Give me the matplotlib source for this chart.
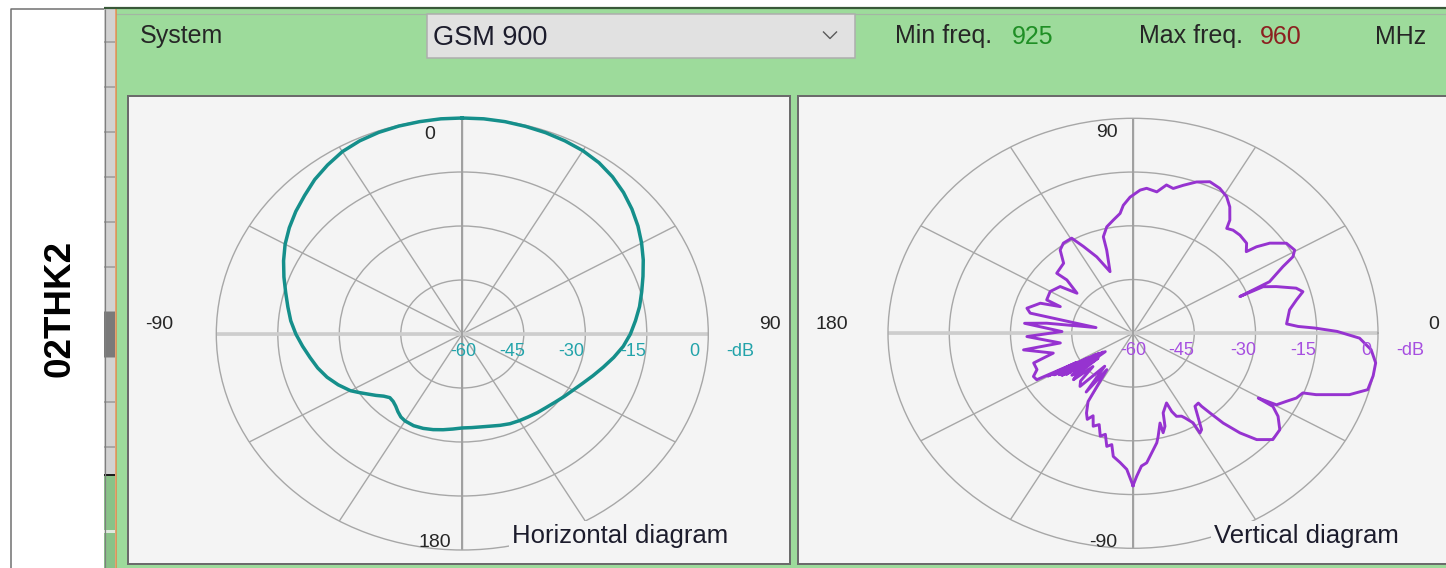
import numpy as np
import matplotlib
matplotlib.use("Agg")
import matplotlib.pyplot as plt
from matplotlib.patches import Rectangle

plt.rcParams['font.family'] = ['Liberation Sans', 'DejaVu Sans']

W, H = 1446, 568

# ---------------- data ----------------
system_label = "System"
system_name = "GSM 900"
min_freq = 925
max_freq = 960
freq_unit = "MHz"
antenna_name = "02THK2"

ring_db = [-45, -30, -15]
ring_label_db = [-60, -45, -30, -15, 0]
spoke_deg = list(range(0, 360, 30))

# Horizontal diagram: azimuth (deg, clockwise from top), gain (dB)
h_angle_deg = [0, 5, 10, 15, 20, 25, 30, 35, 40, 45, 50, 55, 60, 65, 70, 75, 80, 85,
               90, 95, 100, 105, 110, 115, 120, 125, 130, 135, 140, 145, 150, 155,
               160, 165, 170, 175, 180, 185, 190, 195, 200, 205, 210, 213, 216, 219,
               222, 225, 228, 231, 234, 237, 240, 245, 250, 255, 260, 265, 270, 275,
               280, 285, 290, 295, 300, 305, 310, 315, 320, 325, 330, 335, 340, 345,
               350, 355, 360]
h_gain_db = [0.0, 0.0, -0.1, -0.3, -0.5, -0.8, -1.2, -1.9, -3.0, -4.4, -6.0, -7.7,
             -9.5, -11.3, -13.1, -14.7, -16.1, -17.6, -19.0, -20.6, -22.5, -24.4,
             -26.1, -27.6, -28.8, -29.7, -30.5, -31.1, -31.5, -31.9, -32.2, -32.5,
             -33.0, -33.5, -33.8, -33.9, -33.9, -33.5, -33.0, -32.5, -32.1, -31.9,
             -32.1, -32.5, -33.3, -34.2, -34.8, -35.0, -34.2, -32.9, -31.6, -30.1,
             -28.5, -26.6, -24.9, -23.5, -22.3, -20.9, -19.4, -18.0, -16.8, -15.4,
             -13.7, -11.9, -10.1, -8.5, -7.0, -5.6, -4.0, -2.7, -1.5, -0.8, -0.4,
             -0.2, -0.1, 0.0, 0.0]

# Vertical diagram: elevation (deg, counter-clockwise from right), gain (dB)
v_angle_deg = [-90, -88.7, -86.8, -84.7, -83.1, -79.2, -77.9, -75.2, -75.1, -73.2,
               -71.6, -67.1, -66.5, -65.3, -62.8, -61.7, -59.5, -59.5, -58.0, -53.3,
               -50.6, -50.5, -49.7, -48.6, -46.7, -44.4, -40.9, -36.8, -33.1, -30.8,
               -30.5, -29.6, -26.8, -24.3, -21.8, -20.9, -17.9, -15.3, -11.4, -7.9,
               -4.5, -1.4, 0.6, 1.9, 2.7, 4.0, 9.7, 13.1, 15.6, 17.5,
               20.4, 22.2, 21.4, 23.3, 26.9, 28.6, 30.4, 33.8, 36.9, 38.6,
               39.4, 42.1, 46.3, 49.6, 51.9, 53.1, 56.1, 59.0, 62.3, 66.0,
               69.8, 73.4, 76.3, 78.8, 81.6, 85.3, 87.5, 91.1, 93.8, 95.4,
               98.6, 102.2, 105.1, 105.5, 108.1, 112.6, 116.6, 119.5, 124.1, 127.5,
               129.2, 131.0, 138.1, 137.4, 140.8, 143.8, 150.1, 156.2, 157.3, 159.7,
               164.9, 167.4, 167.8, 170.0, 172.4, 174.0, 178.4, 182.0, 188.6, 189.8,
               195.8, 198.8, 203.3, 206.3, 208.8, 210.5, 209.8, 212.0, 211.0, 213.0,
               212.5, 214.0, 214.0, 215.5, 215.0, 217.0, 218.0, 219.0, 220.0, 221.6,
               223.4, 226.0, 228.8, 233.0, 235.0, 237.7, 240.0, 242.9,
               245.0, 247.0, 249.4, 252.0, 254.4, 256.5, 258.5, 260.5, 262.0, 265.0,
               267.7, 270.0]
v_gain_db = [-17.5, -20.1, -22.9, -23.7, -25.4, -28.9, -30.6, -34.1, -31.3, -32.9,
             -36.6, -38.9, -36.2, -34.5, -34.0, -33.2, -31.0, -27.7, -28.3, -34.6,
             -34.8, -33.6, -30.9, -26.6, -21.8, -17.6, -14.7, -15.1, -17.6, -20.1,
             -24.4, -19.6, -17.9, -16.1, -15.2, -12.0, -4.3, -0.4, 0.0, 0.0,
             -1.5, -4.5, -10.0, -15.5, -19.5, -22.3, -21.1, -18.9, -16.8, -18.1,
             -22.6, -25.6, -31.9, -23.6, -18.8, -15.4, -14.1, -14.8, -18.1, -21.3,
             -24.1, -22.5, -22.1, -22.2, -22.8, -20.5, -17.5, -15.5, -14.3, -13.7,
             -15.0, -16.9, -18.4, -17.8, -20.1, -19.4, -20.0, -22.0, -24.2, -26.4,
             -28.0, -29.6, -32.1, -35.9, -41.9, -36.9, -32.9, -29.5, -29.6, -30.7,
             -32.5, -34.1, -34.9, -38.0, -42.3, -37.9, -36.6, -36.9, -40.7, -35.8,
             -33.1, -34.2, -40.1, -50.8, -38.7, -33.3, -42.6, -34.0, -42.0, -32.8,
             -39.7, -34.3, -34.4, -32.8, -33.1, -44.0, -36.0, -47.0, -37.5, -49.0,
             -38.5, -50.0, -39.0, -51.0, -40.0, -51.5, -41.0, -49.0, -42.0, -40.5,
             -46.5, -41.5, -40.3, -48.5, -40.0, -48.0, -38.0, -35.0,
             -33.5, -35.0, -32.3, -33.2, -30.2, -31.0, -27.8, -28.5, -25.3, -23.8,
             -22.0, -17.5]

# ---------------- styling ----------------
GREEN = '#9ddb9b'
PANEL = '#f4f4f4'
GRID = '#a7a7a7'
AXISLINE = '#cdcdcd'
TEAL = '#158f8b'
TEAL_TXT = '#22a3aa'
PURPLE = '#9633d0'
PURPLE_TXT = '#a64ee0'
DARK = '#262626'


def lw(px):
    return px * 0.72


fig = plt.figure(figsize=(W / 100, H / 100), dpi=100)
fig.patch.set_facecolor('white')

bg = fig.add_axes([0, 0, 1, 1])
bg.set_xlim(0, W)
bg.set_ylim(H, 0)
bg.axis('off')


def rect(x0, y0, x1, y1, fc, ec='none', lwpx=0.0, z=1):
    bg.add_patch(Rectangle((x0, y0), x1 - x0, y1 - y0, facecolor=fc,
                           edgecolor=ec, linewidth=lw(lwpx), zorder=z))


def seg(xs, ys, c, px, z=3):
    bg.plot(xs, ys, color=c, lw=lw(px), zorder=z, solid_capstyle='butt')


# left white frame
seg([11, 11, 104], [H, 9, 9], '#6d6d6d', 1.5)
# gray strip with ticks
rect(104, 9, 115, 475, '#d2d2d2')
for k in range(10):
    yk = 41.7 + 45 * k
    seg([104, 115], [yk, yk], '#9a9a9a', 1.5, z=2)
rect(104, 312, 115, 357, '#7a7a7a', z=2)
rect(104, 476, 115, H, '#89c288')
seg([104, 115], [475, 475], '#1e1e1e', 2.0)
rect(104, 530, 115, 533, '#dfe9df', z=2)
seg([104.5, 104.5], [9, H], '#7f7f7f', 1.2)
# green main panel
rect(116, 9, W, H, GREEN)
seg([115.5, 115.5], [9, H], '#df8a4e', 1.6, z=4)
seg([104, W], [7.8, 7.8], '#385838', 2.2, z=4)
seg([116, W], [13.6, 13.6], '#a3b5a3', 1.2)

# header controls
rect(426.5, 13.6, 854.5, 58, '#e1e1e1', ec='#adadad', lwpx=1.5, z=3)
seg([823, 830, 837], [31.5, 38.5, 31.5], '#5a5a5a', 1.4, z=4)
bg.text(140, 43.5, system_label, fontsize=18, color=DARK, va='baseline', ha='left', zorder=5)
bg.text(433, 45, system_name, fontsize=19.5, color='#1c1c2c', va='baseline', ha='left', zorder=5)
bg.text(895, 43.5, "Min freq.", fontsize=18, color=DARK, va='baseline', ha='left', zorder=5)
bg.text(1012, 43.5, str(min_freq), fontsize=18, color='#1f8f25', va='baseline', ha='left', zorder=5)
bg.text(1139, 43.5, "Max freq.", fontsize=18, color=DARK, va='baseline', ha='left', zorder=5)
bg.text(1260, 43.5, str(max_freq), fontsize=18, color='#8c2020', va='baseline', ha='left', zorder=5)
bg.text(1375, 43.5, freq_unit, fontsize=18, color=DARK, va='baseline', ha='left', zorder=5)

# antenna name
bg.text(60, 308, antenna_name, fontsize=26.5, fontweight='bold', rotation=90,
        ha='center', va='center', color='black', zorder=5)

# diagram panels
rect(128, 96, 790, 564, PANEL, ec='#6b6b6b', lwpx=2.0, z=3)
rect(798, 96, W + 10, 564, PANEL, ec='#6b6b6b', lwpx=2.0, z=3)


def px_box(x0, y0, x1, y1):
    return [x0 / W, 1 - y1 / H, (x1 - x0) / W, (y1 - y0) / H]


def style_polar(ax, zero, direction, axis_deg, cross_deg):
    ax.set_aspect('auto')
    ax.set_facecolor('none')
    ax.set_theta_zero_location(zero)
    ax.set_theta_direction(direction)
    ax.set_ylim(-60, 0)
    ax.set_xticks(np.deg2rad(spoke_deg))
    ax.set_xticklabels([])
    ax.set_yticks(ring_db)
    ax.set_yticklabels([])
    ax.tick_params(length=0)
    ax.grid(True, color=GRID, lw=1.0)
    ax.spines['polar'].set_color(GRID)
    ax.spines['polar'].set_linewidth(1.0)
    for a in axis_deg:
        ax.plot(np.deg2rad([a, a]), [-60, 0], color=AXISLINE, lw=2.6, zorder=1.8,
                solid_capstyle='butt')
    for a in cross_deg:
        ax.plot(np.deg2rad([a, a]), [-60, 0], color='#a0a0a0', lw=1.4, zorder=1.8,
                solid_capstyle='butt')


def ring_labels(ax, along_deg, offsets, color):
    th = np.deg2rad(along_deg)
    for val, dx in zip(ring_label_db, offsets):
        ax.annotate(str(val), xy=(th, val), xytext=(dx, -21.5), textcoords='offset pixels',
                    ha='center', va='baseline', fontsize=13, color=color,
                    annotation_clip=False)
    ax.annotate('-dB', xy=(th, 0), xytext=(32, -21.5), textcoords='offset pixels',
                ha='center', va='baseline', fontsize=13, color=color, annotation_clip=False)


def angle_labels(ax, items):
    for lab, ang, dx, dy in items:
        ax.annotate(lab, xy=(np.deg2rad(ang), 0), xytext=(dx, dy), textcoords='offset pixels',
                    ha='center', va='baseline', fontsize=14, color=DARK,
                    annotation_clip=False)


# ---- horizontal diagram ----
axh = fig.add_axes(px_box(216.3, 118, 708.3, 550), projection='polar')
style_polar(axh, 'N', -1, [90, 270], [0, 180])
axh.plot(np.deg2rad(h_angle_deg), h_gain_db, color=TEAL, lw=2.5, zorder=3, clip_on=False,
         solid_joinstyle='round')
ring_labels(axh, 90, [1, -12, -14, -14, -14], TEAL_TXT)
angle_labels(axh, [("0", 0, -33, -20.7), ("90", 90, 61.7, 5.3),
                   ("-90", 270, -57.3, 5.3), ("180", 180, -27.3, 3)])

# ---- vertical diagram ----
axv = fig.add_axes(px_box(888, 118.3, 1378, 548.3), projection='polar')
style_polar(axv, 'E', 1, [0, 180], [90, 270])
axv.plot(np.deg2rad(v_angle_deg), v_gain_db, color=PURPLE, lw=2.1, zorder=3, clip_on=False,
         solid_joinstyle='round')
ring_labels(axv, 0, [0, -12.6, -12.2, -13.5, -12], PURPLE_TXT)
angle_labels(axv, [("90", 90, -26.3, -18.7), ("0", 0, 55.3, 4.6),
                   ("180", 180, -56.2, 4.6), ("-90", 270, -29.7, 1.3)])

# diagram titles (drawn over the outer ring)
box = dict(facecolor=PANEL, edgecolor='none', pad=2.5)
fig.text(512.5 / W, 1 - 543.3 / H, "Horizontal diagram", fontsize=18.5, color='#1c1c2c',
         ha='left', va='baseline', bbox=box, zorder=5)
fig.text(1214.5 / W, 1 - 543.3 / H, "Vertical diagram", fontsize=18.5, color='#1c1c2c',
         ha='left', va='baseline', bbox=box, zorder=5)

fig.savefig('out.png', dpi=100, facecolor=fig.get_facecolor())
